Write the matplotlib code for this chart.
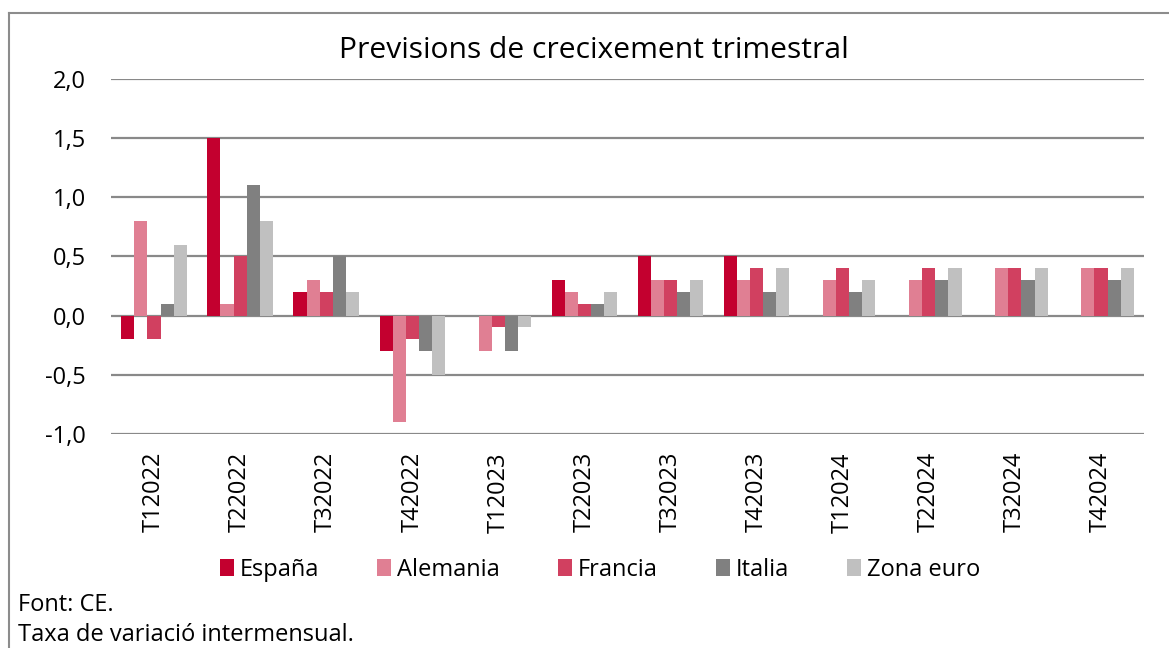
import matplotlib
matplotlib.use("Agg")
import matplotlib.pyplot as plt
import numpy as np
from matplotlib.patches import Patch
from matplotlib.lines import Line2D
from matplotlib.ticker import FuncFormatter

plt.rcParams["font.family"] = ["Open Sans", "DejaVu Sans"]

# quarterly growth forecasts (%)
quarters = ["T12022", "T22022", "T32022", "T42022", "T12023", "T22023",
            "T32023", "T42023", "T12024", "T22024", "T32024", "T42024"]
espana = [-0.2, 1.5, 0.2, -0.3, 0.0, 0.3, 0.5, 0.5, np.nan, np.nan, np.nan, np.nan]
alemania = [0.8, 0.1, 0.3, -0.9, -0.3, 0.2, 0.3, 0.3, 0.3, 0.3, 0.4, 0.4]
francia = [-0.2, 0.5, 0.2, -0.2, -0.1, 0.1, 0.3, 0.4, 0.4, 0.4, 0.4, 0.4]
italia = [0.1, 1.1, 0.5, -0.3, -0.3, 0.1, 0.2, 0.2, 0.2, 0.3, 0.3, 0.3]
zona_euro = [0.6, 0.8, 0.2, -0.5, -0.1, 0.2, 0.3, 0.4, 0.3, 0.4, 0.4, 0.4]

series = [
    ("España", espana, "#C3002F"),
    ("Alemania", alemania, "#E07F93"),
    ("Francia", francia, "#D14060"),
    ("Italia", italia, "#808080"),
    ("Zona euro", zona_euro, "#C0C0C0"),
]

W, H = 1169, 648
fig = plt.figure(figsize=(W / 100, H / 100), dpi=100)
ax = fig.add_axes([111 / W, 1 - 434 / H, (1144 - 111) / W, (434 - 79) / H])

x = np.arange(len(quarters))
width = 0.152
for i, (name, vals, col) in enumerate(series):
    ax.bar(x + (i - 2) * width, vals, width, color=col, zorder=3)

ax.set_xlim(-0.5, len(quarters) - 0.5)
ax.set_ylim(-1.0, 2.0)
ax.set_yticks(np.arange(-1.0, 2.01, 0.5))
ax.yaxis.set_major_formatter(FuncFormatter(lambda v, _: f"{v:.1f}".replace(".", ",")))
ax.grid(axis="y", color="#898989", linewidth=1.6, zorder=0)
ax.set_axisbelow(True)
for s in ax.spines.values():
    s.set_visible(False)
ax.set_xticks(x)
ax.set_xticklabels(quarters, rotation=90, va="top", ha="center")
ax.tick_params(axis="x", length=0, pad=13, labelsize=17)
ax.tick_params(axis="y", length=0, pad=18, labelsize=17)

fig.text(594 / W, 1 - 50 / H, "Previsions de crecixement trimestral",
         ha="center", va="center", fontsize=21.6)

handles = [Patch(facecolor=c, edgecolor="none") for _, _, c in series]
fig.legend(handles, [n for n, _, _ in series], loc="center",
           bbox_to_anchor=(600 / W, 1 - 570 / H), ncol=5, frameon=False,
           fontsize=17, handlelength=0.6, handleheight=0.7, handletextpad=0.25,
           columnspacing=2.45)

fig.text(18 / W, 1 - 605 / H, "Font: CE.", ha="left", va="center", fontsize=17)
fig.text(18 / W, 1 - 635 / H, "Taxa de variació intermensual.", ha="left",
         va="center", fontsize=17)

# outer chart frame (clipped at right and bottom)
fig.add_artist(Line2D([8.5 / W, 8.5 / W], [0, 1 - 12.5 / H], color="#8C8C8C",
                      linewidth=1.5, transform=fig.transFigure))
fig.add_artist(Line2D([8.5 / W, 1], [1 - 12.5 / H, 1 - 12.5 / H], color="#8C8C8C",
                      linewidth=1.5, transform=fig.transFigure))

fig.savefig("out.png", dpi=100)
